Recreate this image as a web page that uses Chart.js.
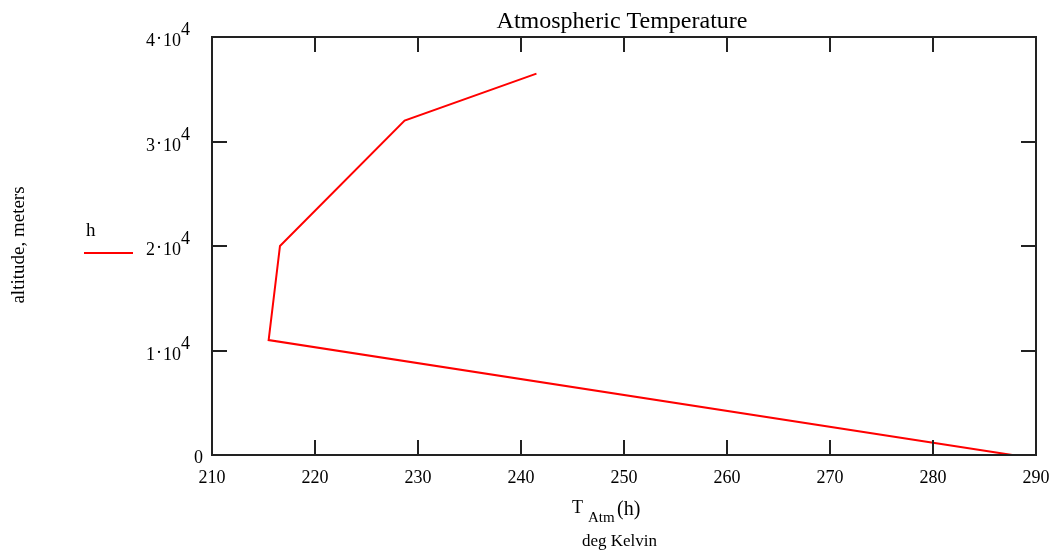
<!DOCTYPE html>
<html>
<head>
<meta charset="utf-8">
<script src="https://cdn.jsdelivr.net/npm/chart.js@4"></script>
<style>
  body { margin: 0; background: #fff; }
  #wrap { width: 1054px; height: 550px; }
</style>
</head>
<body>
<div id="wrap"><canvas id="atmChart" width="1054" height="550"></canvas></div>
<script>
// Data
const altitudes = [0, 11000, 20000, 32000, 36500];          // h, meters
const temperatures = [287.7, 215.5, 216.6, 228.7, 241.5];   // T_Atm(h), K
const xTicks = [210, 220, 230, 240, 250, 260, 270, 280, 290];
const yTicks = [0, 10000, 20000, 30000, 40000];

const serif = '"Liberation Serif", "Times New Roman", serif';

// Mathcad-ish frame, inward ticks and all the text
const framePlugin = {
    id: 'mathcadFrame',
    afterDraw(chart) {
        const ctx = chart.ctx;
        const area = chart.chartArea;
        const xs = chart.scales.x, ys = chart.scales.y;
        const tickLen = 15;
        ctx.save();
        ctx.strokeStyle = '#222';
        ctx.lineWidth = 2;
        ctx.strokeRect(area.left, area.top, area.right - area.left, area.bottom - area.top);

        // ticks on all four sides
        ctx.beginPath();
        xTicks.forEach(v => {
            const px = Math.round(xs.getPixelForValue(v));
            ctx.moveTo(px, area.bottom); ctx.lineTo(px, area.bottom - tickLen);
            ctx.moveTo(px, area.top); ctx.lineTo(px, area.top + tickLen);
        });
        yTicks.forEach(v => {
            const py = Math.round(ys.getPixelForValue(v));
            ctx.moveTo(area.left, py); ctx.lineTo(area.left + tickLen, py);
            ctx.moveTo(area.right, py); ctx.lineTo(area.right - tickLen, py);
        });
        ctx.stroke();

        ctx.fillStyle = '#000';
        ctx.font = '18px ' + serif;

        // x tick labels
        ctx.textAlign = 'center';
        ctx.textBaseline = 'alphabetic';
        xTicks.forEach(v => {
            ctx.fillText(String(v), xs.getPixelForValue(v), area.bottom + 28);
        });

        // y tick labels, n·10^4 style
        yTicks.forEach(v => {
            const py = ys.getPixelForValue(v);
            if (v === 0) {
                ctx.textAlign = 'right';
                ctx.fillText('0', 203, py + 8);
                return;
            }
            ctx.textAlign = 'left';
            let x = 146;
            const mant = String(v / 10000);
            ctx.fillText(mant, x, py + 9);
            x += ctx.measureText(mant).width + 1;
            ctx.fillText('·', x, py + 7);
            x += ctx.measureText('·').width + 1;
            ctx.fillText('10', x, py + 9);
            x += ctx.measureText('10').width;
            ctx.fillText('4', x, py - 2);
        });

        // title
        ctx.textAlign = 'center';
        ctx.font = '24px ' + serif;
        ctx.fillText('Atmospheric Temperature', 622, 28);

        // x axis title: T_Atm(h) / deg Kelvin
        ctx.textAlign = 'left';
        ctx.font = '18px ' + serif;
        ctx.fillText('T', 572, 513);
        ctx.font = '15px ' + serif;
        ctx.fillText('Atm', 588, 522);
        ctx.font = '20px ' + serif;
        ctx.fillText('(h)', 617, 515);
        ctx.font = '17px ' + serif;
        ctx.fillText('deg Kelvin', 582, 546);

        // y axis title
        ctx.save();
        ctx.translate(24, 245);
        ctx.rotate(-Math.PI / 2);
        ctx.textAlign = 'center';
        ctx.font = '19px ' + serif;
        ctx.fillText('altitude, meters', 0, 0);
        ctx.restore();

        // legend
        ctx.textAlign = 'left';
        ctx.font = '19px ' + serif;
        ctx.fillText('h', 86, 236);
        ctx.strokeStyle = '#ff0000';
        ctx.lineWidth = 2;
        ctx.beginPath();
        ctx.moveTo(84, 253); ctx.lineTo(133, 253);
        ctx.stroke();

        ctx.restore();
    }
};

const points = temperatures.map((t, i) => ({ x: t, y: altitudes[i] }));

new Chart(document.getElementById('atmChart'), {
    type: 'line',
    data: {
        datasets: [{
            label: 'h',
            data: points,
            borderColor: '#ff0000',
            borderWidth: 2,
            pointRadius: 0,
            tension: 0,
            fill: false
        }]
    },
    options: {
        responsive: false,
        animation: false,
        layout: { padding: { left: 212, right: 18, top: 37, bottom: 95 } },
        plugins: { legend: { display: false }, tooltip: { enabled: false } },
        scales: {
            x: { type: 'linear', min: 210, max: 290, display: false },
            y: { type: 'linear', min: 0, max: 40000, display: false }
        }
    },
    plugins: [framePlugin]
});
</script>
</body>
</html>
